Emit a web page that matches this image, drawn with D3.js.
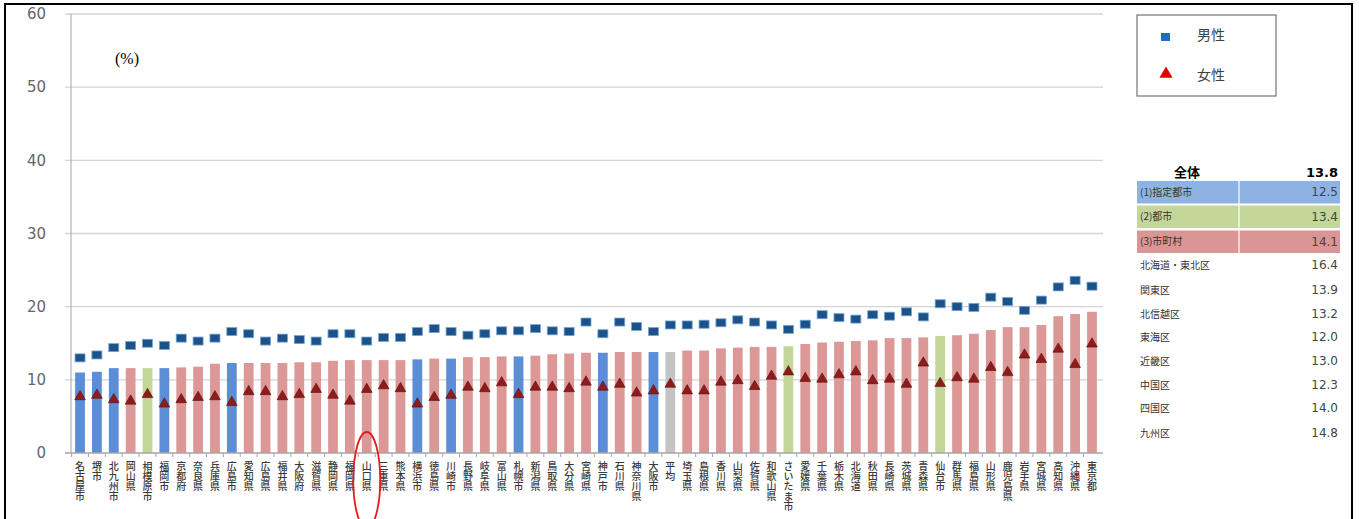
<!DOCTYPE html>
<html><head><meta charset="utf-8">
<script src="https://cdn.jsdelivr.net/npm/d3@7"></script>
<style>
body{margin:0;background:#fff;}
svg{display:block;}
.vl{writing-mode:vertical-rl;text-orientation:upright;}
</style></head>
<body>
<svg id="c" width="1359" height="519"></svg>
<script>
const categories = ["名古屋市","堺市","北九州市","岡山県","相模原市","福岡市","京都府","奈良県","兵庫県","広島市",
"愛知県","広島県","福井県","大阪府","滋賀県","静岡県","福岡県","山口県","三重県","熊本県",
"横浜市","徳島県","川崎市","長野県","岐阜県","富山県","札幌市","新潟県","鳥取県","大分県",
"宮崎県","神戸市","石川県","神奈川県","大阪市","平均","埼玉県","島根県","香川県","山梨県",
"佐賀県","和歌山県","さいたま市","愛媛県","千葉県","栃木県","北海道","秋田県","長崎県","茨城県",
"青森県","仙台市","群馬県","福島県","山形県","鹿児島県","岩手県","宮城県","高知県","沖縄県","東京都"];
const groups = ["b","b","b","r","g","b","r","r","r","b",
"r","r","r","r","r","r","r","r","r","r",
"b","r","b","r","r","r","b","r","r","r",
"r","b","r","r","b","x","r","r","r","r",
"r","r","g","r","r","r","r","r","r","r",
"r","g","r","r","r","r","r","r","r","r","r"];
const totalValues = [11.0,11.1,11.6,11.6,11.6,11.6,11.7,11.8,12.2,12.3,
12.3,12.3,12.3,12.4,12.4,12.6,12.7,12.7,12.7,12.7,
12.8,12.9,12.9,13.1,13.1,13.2,13.2,13.3,13.5,13.6,
13.7,13.7,13.8,13.8,13.8,13.8,14.0,14.0,14.3,14.4,
14.5,14.5,14.6,14.9,15.1,15.2,15.3,15.4,15.7,15.7,
15.8,16.0,16.1,16.3,16.8,17.2,17.2,17.5,18.7,19.0,19.3];
const maleValues = [13.0,13.4,14.4,14.7,15.0,14.7,15.7,15.3,15.7,16.6,
16.3,15.3,15.7,15.5,15.3,16.3,16.3,15.3,15.8,15.8,
16.6,17.0,16.6,16.1,16.3,16.7,16.7,17.0,16.7,16.6,
17.9,16.3,17.9,17.3,16.6,17.5,17.5,17.6,17.8,18.2,
17.9,17.5,16.9,17.6,18.9,18.5,18.3,18.9,18.7,19.3,
18.6,20.4,20.0,19.9,21.3,20.7,19.5,20.9,22.7,23.6,22.8];
const femaleValues = [7.7,7.9,7.3,7.1,8.0,6.7,7.3,7.6,7.7,6.9,
8.4,8.4,7.7,8.0,8.7,7.9,7.1,8.7,9.2,8.8,
6.7,7.6,7.9,9.0,8.8,9.6,8.0,9.0,9.0,8.8,
9.7,9.0,9.4,8.2,8.5,9.4,8.5,8.5,9.7,9.9,
9.1,10.5,11.1,10.2,10.1,10.7,11.1,9.9,10.1,9.4,
12.3,9.5,10.3,10.1,11.7,11.0,13.4,12.8,14.2,12.1,14.9];
const yTicks = [0,10,20,30,40,50,60];
const seriesNames = ["男性","女性"];
const tableLabels = ["全体","(1)指定都市","(2)都市","(3)市町村","北海道・東北区","関東区","北信越区","東海区","近畿区","中国区","四国区","九州区"];
const tableValues = [13.8,12.5,13.4,14.1,16.4,13.9,13.2,12.0,13.0,12.3,14.0,14.8];
const highlight = "山口県";

const colors = {b:"#5b8ed6", r:"#dc9896", g:"#c3d79a", x:"#c4c4c4"};
const svg = d3.select("#c");
const cjk = "'Noto Sans CJK JP','Noto Sans',sans-serif";

svg.append("rect").attr("x",5).attr("y",4).attr("width",1347).attr("height",524)
  .attr("fill","none").attr("stroke","#000").attr("stroke-width",2);

const x = d3.scaleBand().domain(categories).range([71.6,1100.4]).paddingInner(0.42).paddingOuter(0.21);
const y = d3.scaleLinear().domain([0,60]).range([453,14]);

svg.append("g").selectAll("line").data(yTicks.filter(d=>d>0)).join("line")
  .attr("x1",65).attr("x2",1103).attr("y1",d=>y(d)).attr("y2",d=>y(d))
  .attr("stroke","#d4d4d4").attr("stroke-width",1.3);

svg.append("g").selectAll("text").data(yTicks).join("text")
  .attr("x",46).attr("y",d=>y(d)).attr("dy","0.35em").attr("text-anchor","end")
  .attr("font-family","'DejaVu Sans',sans-serif").attr("font-size",15).attr("fill","#666")
  .text(d=>d);

svg.append("g").selectAll("rect").data(categories).join("rect")
  .attr("x",d=>x(d)).attr("width",x.bandwidth())
  .attr("y",(d,i)=>y(totalValues[i])).attr("height",(d,i)=>y(0)-y(totalValues[i]))
  .attr("fill",(d,i)=>colors[groups[i]]);

svg.append("line").attr("x1",71).attr("x2",71).attr("y1",14).attr("y2",453).attr("stroke","#a6a6a6").attr("stroke-width",1);
const xAxis = svg.append("g").attr("transform","translate(0,453)");
xAxis.append("line").attr("x1",65).attr("x2",1103).attr("y1",0).attr("y2",0).attr("stroke","#a6a6a6").attr("stroke-width",1.3);
xAxis.selectAll("line.t").data(categories).join("line").attr("class","t")
  .attr("x1",d=>x(d)-x.step()*x.paddingInner()/2).attr("x2",d=>x(d)-x.step()*x.paddingInner()/2)
  .attr("y1",0).attr("y2",4).attr("stroke","#a6a6a6");

// vertical labels
svg.append("g").attr("font-family",cjk).attr("font-size",10).attr("fill","#3a3a3a").attr("font-weight",500)
  .selectAll("text").data(categories).join("text").attr("class","vl")
  .attr("x",d=>x(d)+x.bandwidth()/2).attr("y",461)
  .text(d=>d);

svg.append("g").selectAll("rect").data(categories).join("rect")
  .attr("x",d=>x(d)+x.bandwidth()/2-5).attr("y",(d,i)=>y(maleValues[i])-4)
  .attr("width",10).attr("height",8).attr("fill","#1c5288").attr("stroke","#6fa6da").attr("stroke-width",0.8);

const tri = d3.symbol().type(d3.symbolTriangle).size(50);
svg.append("g").selectAll("path").data(categories).join("path")
  .attr("transform",(d,i)=>`translate(${x(d)+x.bandwidth()/2},${y(femaleValues[i])})`)
  .attr("d",tri).attr("fill","#8e1c1c").attr("stroke","#5a0e0e").attr("stroke-width",0.6);

const hx = x(highlight)+x.bandwidth()/2;
svg.append("ellipse").attr("cx",hx).attr("cy",480).attr("rx",13.5).attr("ry",48)
  .attr("fill","none").attr("stroke","#e31b1b").attr("stroke-width",1.8);

svg.append("text").attr("x",115).attr("y",64).attr("font-family","'Liberation Serif',serif").attr("font-size",16).attr("fill","#000").text("(%)");

const lg = svg.append("g");
lg.append("rect").attr("x",1137).attr("y",15).attr("width",139).attr("height",81).attr("fill","#fff").attr("stroke","#7f7f7f").attr("stroke-width",1.3);
lg.append("rect").attr("x",1161).attr("y",33).attr("width",9).attr("height",8).attr("fill","#1f6fc0");
lg.append("path").attr("transform","translate(1166,74)").attr("d",d3.symbol().type(d3.symbolTriangle).size(75)).attr("fill","#e00000");
lg.selectAll("text").data(seriesNames).join("text")
  .attr("x",1197).attr("y",(d,i)=>i?75:35).attr("dy","0.35em")
  .attr("font-family",cjk).attr("font-size",14).attr("fill","#404040").text(d=>d);

const tb = svg.append("g");
const rowY = [172,192,216.5,241.5,265,290,314,337,361,385,408,433];
const rowBg = [null,"#8db3e2","#c4d79b","#da9694"];
rowBg.forEach((c,i)=>{ if(c){
  tb.append("rect").attr("x",1137).attr("y",rowY[i]-11).attr("width",203).attr("height",22.5).attr("fill",c);
}});
tb.append("line").attr("x1",1239).attr("x2",1239).attr("y1",181).attr("y2",253).attr("stroke","#fff").attr("stroke-width",1.2);
tableLabels.forEach((l,i)=>{
  tb.append("text").attr("x",i===0?1187:1140).attr("y",rowY[i]).attr("dy","0.35em")
    .attr("text-anchor",i===0?"middle":"start")
    .attr("font-family",cjk).attr("font-size",i===0?13:10).attr("font-weight",i===0?700:400)
    .attr("fill",i===0?"#000":"#333").text(l);
  tb.append("text").attr("x",1338).attr("y",rowY[i]).attr("dy","0.35em").attr("text-anchor","end")
    .attr("font-family","'DejaVu Sans',sans-serif").attr("font-size",i===0?13:12).attr("font-weight",i===0?700:400)
    .attr("fill",i===0?"#000":"#444").text(tableValues[i].toFixed(1));
});
</script>
</body></html>
